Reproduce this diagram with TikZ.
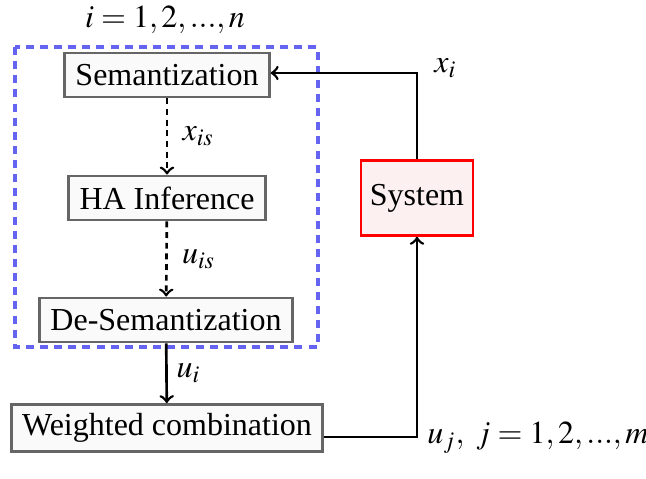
\documentclass[tikz,border=0pt]{standalone}
\usepackage{mathptmx}
\usepackage[no-math]{fontspec}
\setmainfont{Liberation Serif}
\usetikzlibrary{arrows}
\usetikzlibrary{positioning}
\definecolor{boxgray}{RGB}{102, 102, 102}
\definecolor{boxfill}{RGB}{250, 250, 250}
\definecolor{sysfill}{RGB}{253, 240, 240}
\definecolor{groupblue}{RGB}{100, 100, 240}

\tikzset{
    block/.style={draw=boxgray, fill=boxfill, line width=1.1pt, inner xsep=4pt,
                  minimum height=16.5pt, font=\fontsize{12}{14}\selectfont},
    sysblock/.style={draw=red, fill=sysfill, line width=1.1pt,
                  minimum width=42pt, minimum height=28pt, font=\fontsize{12}{14}\selectfont},
    flow/.style={->, >=to, line width=1pt},
    lbl/.style={font=\fontsize{12}{14}\selectfont}
}

\begin{document}
\begin{tikzpicture}[x=0.375pt, y=-0.375pt]
            % Frame to ensure alignment:
            \useasboundingbox (0, 0) rectangle (646, 479);
            % Semantization chain
            \node[block]    (sem)    at (167,  75) {Semantization};
            \node[block]    (infer)  at (167, 198) {HA Inference};
            \node[block]    (desem)  at (166, 320) {De-Semantization};
            \node[block]    (weight) at (167, 428) {Weighted combination};
            \node[sysblock] (sys)    at (417, 198) {System};
            % Group of the n copies
            \draw[color=groupblue, line width=1.2pt, dash pattern=on 3pt off 2.3pt]
                 (15, 47) rectangle (318, 347);
            \node[lbl] (idx) at (165, 20) {$i = 1, 2, ..., n$};
            % Inner connectors
            \draw[flow, dash pattern=on 2.2pt off 1.8pt] (sem) -- (infer)
                 node[midway, right, lbl, xshift=2pt] {$x_{is}$};
            \draw[flow, dash pattern=on 2.2pt off 1.8pt] (infer) -- (desem)
                 node[midway, right, lbl, xshift=2pt] {$u_{is}$};
            \draw[flow] (desem) -- (weight)
                 node[midway, right, lbl] {$u_i$};
            % Feedback loop
            \coordinate (top) at (417, 73);
            \coordinate (bot) at (417, 437);
            \draw[flow] (sys.north) -- (top) -- (sem.east |- top);
            \node[lbl, anchor=west] (xout) at (425, 68) {$x_i$};
            \draw[flow] (weight.east |- bot) -- (bot) -- (sys.south);
            \node[lbl, anchor=west] (uout) at (418, 438) {$u_j,\ j = 1, 2, ..., m$};
\end{tikzpicture}
\end{document}
